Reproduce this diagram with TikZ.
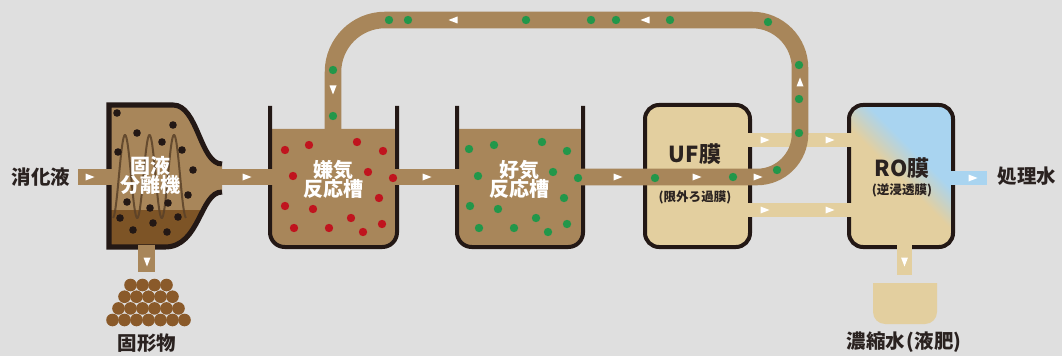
\documentclass[tikz,border=0pt]{standalone}
\usepackage{fontspec}
\setmainfont{Noto Sans CJK JP}
\usetikzlibrary{calc}

\definecolor{bgc}{HTML}{DFDFDF}
\definecolor{pipebrown}{HTML}{A8865A}
\definecolor{sepdark}{HTML}{7D5426}
\definecolor{ink}{HTML}{231815}
\definecolor{coilc}{HTML}{5A4128}
\definecolor{dotred}{HTML}{C0141E}
\definecolor{dotgreen}{HTML}{22974A}
\definecolor{tanc}{HTML}{E3CF9F}
\definecolor{roblue}{HTML}{A9D4F0}
\definecolor{pilec}{HTML}{8A5A2A}
\definecolor{labelc}{HTML}{2A2220}

% RO membrane: tan lower left, blue upper right
\pgfdeclarehorizontalshading{roshade}{100bp}{color(0bp)=(tanc); color(49bp)=(tanc); color(61bp)=(roblue); color(100bp)=(roblue)}

\tikzset{
  pipe/.style={draw=pipebrown, line width=12.4pt},
  tanpipe/.style={draw=tanc, line width=11.2pt},
  bluepipe/.style={draw=roblue, line width=10.5pt},
  wall/.style={draw=ink, line width=3pt},
  whitelbl/.style={text=white, font=\fontsize{15}{15}\selectfont\bfseries, inner sep=0},
  darklbl/.style={text=labelc, font=\fontsize{14.6}{15}\selectfont\bfseries, inner sep=0},
  memlbl/.style={text=labelc, font=\fontsize{16.5}{17}\selectfont\bfseries, inner sep=0},
  memsub/.style={text=labelc, font=\fontsize{9.4}{10}\selectfont\bfseries, inner sep=0},
  flow/.pic={\fill[white] (-4.5,-3.5) -- (4.5,0) -- (-4.5,3.5) -- cycle;},
}

\begin{document}
\begin{tikzpicture}[x=0.75pt, y=-0.75pt]
\useasboundingbox (0,0) rectangle (1062,356);
\fill[bgc] (0,0) rectangle (1062,356);

% ---------- solid/liquid separator ----------
\def\seppath{(109,105) -- (173,105) .. controls (198,105) and (200,164) .. (222,164)
  -- (222,192) .. controls (200,192) and (200,247) .. (165,247) -- (109,247) -- cycle}
\fill[pipebrown] \seppath;
\begin{scope}
  \clip \seppath;
  \fill[sepdark] (100,210) rectangle (230,252);
\end{scope}
\draw[draw=ink, line width=3.8pt] (222,164) .. controls (200,164) and (198,105) .. (173,105)
  -- (109,105) -- (109,247) -- (165,247) .. controls (200,247) and (200,192) .. (222,192);

% ---------- tanks ----------
\fill[pipebrown, rounded corners=11pt] (270,129) -- (270,247) -- (397,247) -- (397,129);
\draw[wall, rounded corners=11pt] (270,106) -- (270,247) -- (397,247) -- (397,106);
\fill[pipebrown, rounded corners=11pt] (457,129) -- (457,247) -- (583,247) -- (583,129);
\draw[wall, rounded corners=11pt] (457,106) -- (457,247) -- (583,247) -- (583,106);

% ---------- membranes ----------
\node[draw=ink, line width=3pt, fill=tanc, rounded corners=10.5pt, inner sep=0,
      minimum width=78.75pt, minimum height=106.5pt] (uf) at (697.5,176) {};
\node[draw=ink, line width=3pt, shade, shading=roshade, shading angle=45, rounded corners=10.5pt, inner sep=0,
      minimum width=78pt, minimum height=106.5pt] (ro) at (901,176) {};

% ---------- pipe end points ----------
\coordinate (inlet) at (78,177);
\coordinate (sepin) at (118,177);
\coordinate (sepout) at (218,177);
\coordinate (anin) at (275,177);
\coordinate (anout) at (392,177);
\coordinate (aein) at (462,177);
\coordinate (aeout) at (578,177);
\coordinate (antop) at (333,131);
\coordinate (sepbot) at (146.5,244.5);
\coordinate (sepdrop) at (146.5,272);

% light pipes UF -> RO and RO outlets
\draw[tanpipe] ($(uf.east)+(-4,-36)$) -- ($(ro.west)+(6,-36)$);
\draw[tanpipe] ($(uf.east)+(-4,34)$) -- ($(ro.west)+(6,34)$);
\draw[tanpipe] ($(ro.south)+(3.5,-4)$) -- ($(ro.south)+(3.5,26)$) coordinate (rodrop);
\draw[bluepipe] ($(ro.east)+(-4,2)$) -- ($(ro.east)+(32,2)$) coordinate (roout);

% brown pipes
\draw[pipe] (inlet) -- (sepin);
\draw[pipe] (sepout) -- (anin);
\draw[pipe] (anout) -- (aein);
\draw[pipe, line width=12.75pt] (sepbot) -- (sepdrop);
% return loop: aerobic tank -> through UF -> up, over and down into the anaerobic tank
\draw[pipe] (aeout) -- (757,177)
  .. controls (780.7,177) and (800,157.7) .. (800,134) -- (800,68)
  .. controls (800,41.5) and (778.5,20) .. (752,20) -- (385,20)
  .. controls (356.3,20) and (333,43.3) .. (333,72) -- (antop);

% concentrate basin
\fill[tanc, rounded corners=9pt] (873,283) -- (873,324) -- (937,324) -- (937,283);

% ---------- separator coil ----------
\draw[coilc, line width=1.5pt, opacity=0.85] plot[domain=113:186, samples=120, smooth]
  (\x, {176.5-41.5*cos((\x-125)/24.5*360)});

% solids
\foreach \x/\y in {117/113,173/125,137/133,162/142,182/150,118/152,193/170,188/195,
                   127/202,150/208,168/203,178/217,120/218,133/230,153/223,167/232}
  \fill[ink] (\x,\y) circle[radius=3.8];

% red dots (anaerobic)
\foreach \x/\y in {285/150,309/145,357/142,383/151,293/176,368/172,393/178,379/198,
                   285/206,313/209,351/218,382/224,294/228,329/228,363/232}
  \fill[dotred] (\x,\y) circle[radius=4.2];

% green dots (aerobic tank and return loop)
\foreach \x/\y in {469/149,494/145,542/142,567/151,478/176,553/172,578/178,564/198,
                   470/206,498/209,536/218,567/224,479/228,514/228,548/232,
                   655/178,733/177,777/170,799/133,799/99,799/65,768/22,
                   670/20,616/20,591/20,526/20,408/20,389/20,333/70,333/116}
  \fill[dotgreen] (\x,\y) circle[radius=4.2];

% pile of solids
\foreach \n/\y in {4/285,5/296.7,6/308.4,7/320}
  \foreach \i in {1,...,\n}
    \fill[pilec] ({148.5+(\i-(\n+1)/2)*12}, \y) circle[radius=6.3];

% flow arrows
\foreach \x/\y in {90/177,247/177,427/177,618/177,697/177,758/177,
                   765/140,830/140,765/210,830/210,973/178}
  \pic at (\x,\y) {flow};
\pic[rotate=180] at (453,20) {flow};
\pic[rotate=180] at (645,20) {flow};
\pic[rotate=-90] at (333,90) {flow};
\pic[rotate=90] at (800,82) {flow};
\pic[rotate=-90] at (147,262) {flow};
\pic[rotate=-90] at (904.5,262) {flow};

% ---------- labels ----------
\node[whitelbl] (sepa) at (150,166) {固液};
\node[whitelbl] (sepb) at (150,185) {分離機};
\node[whitelbl] (ana) at (333,170) {嫌気};
\node[whitelbl] (anb) at (333,189) {反応槽};
\node[whitelbl] (aea) at (519,170) {好気};
\node[whitelbl] (aeb) at (519,189) {反応槽};
\node[memlbl] (ufa) at (695,154) {UF膜};
\node[memsub] (ufb) at (695,197) {(限外ろ過膜)};
\node[memlbl] (roa) at (902,168) {RO膜};
\node[memsub] (rob) at (902,190) {(逆浸透膜)};
\node[darklbl] (feed) at (41,177) {消化液};
\node[darklbl] (solid) at (147,343) {固形物};
\node[darklbl] (treated) at (1027,176) {処理水};
\node[darklbl] (conc) at (904,342) {濃縮水\hspace{0.1em}(液肥)};
\end{tikzpicture}
\end{document}
